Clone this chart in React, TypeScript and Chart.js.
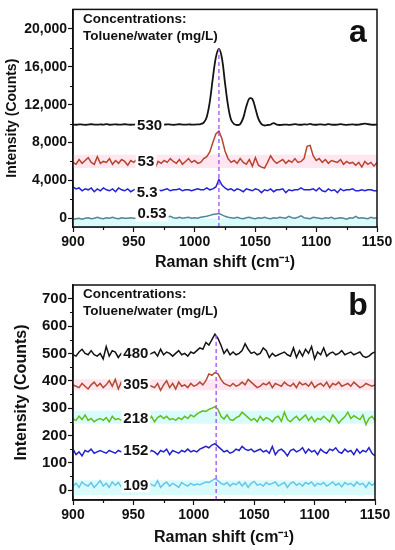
import React, { useEffect, useRef } from 'react';
import { Chart, registerables } from 'chart.js';

Chart.register(...registerables);

const FONT = "'Liberation Sans', Arial, Helvetica, sans-serif";

// Raman shift axis (cm-1)
const RAMAN_SHIFT = [
  900, 902.5, 905, 907.5, 910, 912.5, 915, 917.5, 920, 922.5,
  925, 927.5, 930, 932.5, 935, 937.5, 940, 942.5, 945, 947.5,
  950, 952.5, 955, 957.5, 960, 962.5, 965, 967.5, 970, 972.5,
  975, 977.5, 980, 982.5, 985, 987.5, 990, 992.5, 995, 997.5,
  1000, 1002.5, 1005, 1007.5, 1010, 1012.5, 1015, 1017.5, 1020, 1022.5,
  1025, 1027.5, 1030, 1032.5, 1035, 1037.5, 1040, 1042.5, 1045, 1047.5,
  1050, 1052.5, 1055, 1057.5, 1060, 1062.5, 1065, 1067.5, 1070, 1072.5,
  1075, 1077.5, 1080, 1082.5, 1085, 1087.5, 1090, 1092.5, 1095, 1097.5,
  1100, 1102.5, 1105, 1107.5, 1110, 1112.5, 1115, 1117.5, 1120, 1122.5,
  1125, 1127.5, 1130, 1132.5, 1135, 1137.5, 1140, 1142.5, 1145, 1147.5,
  1150,
];

const X_TICKS = [900, 950, 1000, 1050, 1100, 1150];
const X_MINOR = [925, 975, 1025, 1075, 1125];

// ---------- Panel a ----------
const A_Y_TICKS = [0, 4000, 8000, 12000, 16000, 20000];
const A_Y_MINOR = [2000, 6000, 10000, 14000, 18000];

const A_530 = [
  9900, 9880, 9920, 9900, 9870, 9900, 9930, 9900, 9890, 9910,
  9900, 9950, 9880, 9900, 9920, 9890, 9900, 9930, 9900, 9880,
  9900, 9910, 9900, 9890, 9900, 9920, 9900, 9880, 9910, 9900,
  9890, 9920, 9900, 9870, 9900, 9930, 9900, 9890, 9910, 9900,
  9900, 9920, 9950, 10100,
  10700, 12300, 14800, 17000, 17900, 16900, 14300, 11900, 10400, 9950,
  9850, 9950, 10600, 11800, 12650, 12600, 11600, 10500, 9950, 9800,
  9850, 9900, 10050, 9900,
  9850, 9880, 9900, 9870, 9900, 9950, 9900, 9880,
  9920, 9900, 9960, 9900, 9880, 9920, 9900, 9870, 9950, 9900,
  9880, 9900, 9950, 9900, 9870, 9900, 9910, 9880, 9900, 9950,
  10000, 9950, 9900, 9880, 9900,
];

const A_53 = [
  5900, 5700, 6200, 5800, 6100, 6400, 5900, 5700, 6500, 5800,
  6000, 5900, 6300, 5700, 6100, 5800, 6200, 6000, 5600, 6100,
  5900, 6200, 5800, 6000, 6300, 5900, 5700, 5300, 6000, 5800,
  6100, 5900, 6300, 6000, 5800, 6200, 5700, 6000, 6300, 5900,
  6100, 5800, 5900, 6300,
  6500, 7000, 8000, 8900, 9200, 8400, 7100, 6300, 5900,
  6100, 5800, 6300, 5900, 5700, 6200, 5500, 6400, 5600, 5400,
  5300, 5900, 6600, 6100, 5800, 6000, 6200, 5800, 6100, 5900,
  6300, 5900, 6000, 6300, 7600, 7700, 6600, 6100, 6300, 5900,
  6200, 5800, 6100, 6000, 5900, 6200, 5700, 6000, 5800, 5900,
  5600, 5900, 5400, 6000, 5700, 5900, 5500, 5900,
];

const A_5_3 = [
  3300, 3100, 3200, 2900, 3100, 3000, 3200, 2800, 3100, 2900,
  3200, 3000, 2900, 3100, 2800, 3200, 3000, 2900, 3100, 2800,
  3000, 3100, 2900, 3000, 2900, 2900, 3000, 2900, 3000, 2900,
  3000, 3100, 2900, 3000, 3000, 3100, 2900, 3000, 3000, 2900,
  3000, 3100, 3000, 3000,
  3200, 3000, 3100, 3300, 4100, 3500, 3200, 3000, 3100,
  2900, 3100, 3000, 2800, 3100, 3000, 2900, 3100, 3000, 2700,
  3000, 2900, 3100, 2800, 3000, 3000, 3100, 2700, 3000, 2900,
  3000, 3000, 3200, 3000, 3000, 3000, 3100, 2900, 3200, 2900,
  2800, 3100, 2900, 3000, 2700, 3100, 2900, 3000, 3000, 3100,
  2900, 2900, 3000, 2900, 3000, 3000, 2900, 2900,
];

const A_0_53 = [
  -100, -50, 0, -100, 0, 50, -50, 0, 100, 0,
  -50, 50, 0, 100, 0, -50, 50, 0, 0, 50,
  0, 0, 50, 0, 0, 50, 0, 0, 0, 50,
  0, 100, 200, 50, 0, 100, 0, 50, 100, 0,
  50, 0, 100, 150,
  200, 300, 400, 450, 500, 350, 200, 100, 50,
  0, 100, 0, -50, 50, 100, 0, -50, 50, 0,
  100, 0, -50, 50, 0, 100, 50, 0, 200, 50,
  0, 100, 250, 50, 0, -50, 100, 50, 0, -50,
  50, 0, 100, -50, 0, 50, 0, -100, 50, 0,
  200, 0, 50, 0, -50, 100, 0, 50,
];

const A_LABELS = ['530', '53', '5.3', '0.53'];

// ---------- Panel b ----------
const B_Y_TICKS = [0, 100, 200, 300, 400, 500, 600, 700];
const B_Y_MINOR = [50, 150, 250, 350, 450, 550, 650];

const B_480 = [
  495, 490, 505, 515, 500, 495, 510, 495, 490, 500,
  480, 525, 490, 510, 505, 485, 500, 490, 510, 500,
  505, 495, 490, 500, 510, 495, 500, 505, 490, 515,
  495, 505, 500, 490, 500, 510, 495, 500, 490, 505,
  500, 510, 520, 515,
  540, 530, 550, 570, 555, 530, 500, 515, 495,
  505, 495, 500, 510, 535, 515, 500, 505, 495, 500,
  520, 510, 485, 500, 490, 495, 500, 505, 495, 490,
  520, 485, 510, 490, 515, 500, 525, 480, 505, 495,
  520, 490, 500, 505, 495, 500, 510, 495, 500, 505,
  495, 500, 505, 490, 485, 490, 500, 505,
];

const B_305 = [
  385, 380, 375, 390, 380, 370, 385, 395, 380, 390,
  375, 385, 400, 380, 405, 370, 395, 365, 385, 395,
  380, 390, 385, 375, 395, 385, 380, 375, 390, 365,
  385, 400, 375, 390, 370, 395, 380, 385, 375, 390,
  380, 385, 395, 385,
  400, 425, 420, 430, 425, 405, 390, 385, 380,
  390, 380, 385, 395, 385, 405, 395, 385, 375, 380,
  390, 385, 395, 375, 390, 385, 380, 395, 385, 380,
  390, 375, 395, 385, 390, 380, 395, 375, 385, 390,
  380, 395, 375, 390, 385, 395, 380, 385, 390, 380,
  395, 385, 375, 380, 390, 385, 380, 385,
];

const B_218 = [
  260, 255, 270, 258, 275, 255, 262, 250, 258, 262,
  255, 265, 250, 270, 258, 262, 255, 265, 258, 262,
  262, 258, 260, 255, 262, 255, 270, 250, 265, 272,
  262, 270, 258, 262, 255, 265, 258, 270, 262, 275,
  268, 278, 285, 290,
  288, 295, 300, 305, 295, 270, 260, 275, 258,
  255, 265, 270, 285, 275, 265, 255, 262, 250, 270,
  255, 265, 260, 250, 265, 270, 252, 285, 258, 250,
  262, 270, 255, 265, 275, 255, 268, 250, 262, 258,
  270, 260, 250, 275, 262, 245, 258, 268, 285, 262,
  272, 265, 258, 275, 240, 262, 270, 255,
];

const B_152 = [
  150, 130, 140, 125, 145, 140, 150, 135, 140, 145,
  140, 135, 145, 140, 135, 145, 140, 150, 130, 155,
  140, 145, 130, 150, 140, 135, 145, 140, 130, 145,
  140, 150, 130, 145, 140, 135, 145, 140, 150, 140,
  145, 140, 150, 155,
  160, 155, 165, 170, 160, 150, 140, 145, 135,
  140, 150, 145, 160, 150, 145, 150, 140, 145, 150,
  140, 145, 135, 160, 130, 145, 150, 140, 125, 145,
  150, 140, 145, 155, 135, 150, 140, 145, 130, 150,
  140, 135, 150, 145, 155, 140, 135, 150, 140, 145,
  130, 150, 135, 145, 140, 155, 135, 125,
];

const B_109 = [
  15, 25, 10, 30, 20, 15, 28, 10, 22, 35,
  15, 25, 10, 30, 18, 28, 12, 25, 35, 10,
  20, 28, 15, 25, 10, 30, 20, 15, 35, 10,
  22, 30, 15, 25, 18, 10, 28, 20, 15, 25,
  18, 22, 20, 25,
  30, 28, 35, 42, 35, 25, 20, 28, 15,
  25, 20, 30, 15, 28, 10, 25, 32, 18, 22,
  15, 28, 20, 25, 30, 15, 22, 28, 10, 25,
  30, 18, 25, 15, 28, 22, 30, 15, 25, 20,
  28, 15, 22, 30, 18, 25, 12, 28, 20, 25,
  15, 30, 20, 25, 10, 28, 18, 25,
];

const B_LABELS = ['480', '305', '218', '152', '109'];

type Series = { values: number[]; color: string; label: string; lx: number; ly: number; width: number };
type Band = { lo: number; hi: number; color: string };
type Panel = {
  letter: string;
  letterBaseline: number;
  yMin: number;
  yMax: number;
  yTicks: number[];
  yMinor: number[];
  yTickSize: number;
  yTitleSize: number;
  yTitlePad: number;
  padRight: number;
  xHeight: number;
  peakX: number;
  peakTop: number;
  series: Series[];
  bands: Band[];
};

const PINK = 'rgba(255, 222, 236, 0.75)';
const CYAN = 'rgba(212, 250, 250, 0.85)';

const PANEL_A: Panel = {
  letter: 'a',
  letterBaseline: 42,
  yMin: -930,
  yMax: 22070,
  yTicks: A_Y_TICKS,
  yMinor: A_Y_MINOR,
  yTickSize: 14,
  yTitleSize: 14,
  yTitlePad: 4,
  padRight: 18,
  xHeight: 48,
  peakX: 1020,
  peakTop: 17900,
  series: [
    { values: A_530, color: '#141414', label: A_LABELS[0], lx: 963, ly: 9875, width: 1.8 },
    { values: A_53, color: '#b5452b', label: A_LABELS[1], lx: 960, ly: 6010, width: 1.5 },
    { values: A_5_3, color: '#2222d6', label: A_LABELS[2], lx: 961, ly: 2830, width: 1.5 },
    { values: A_0_53, color: '#4f8796', label: A_LABELS[3], lx: 965, ly: 520, width: 1.5 },
  ],
  bands: [
    { lo: 5300, hi: 6700, color: PINK },
    { lo: -930, hi: -20, color: CYAN },
  ],
};

const PANEL_B: Panel = {
  letter: 'b',
  letterBaseline: 40,
  yMin: -36,
  yMax: 750,
  yTicks: B_Y_TICKS,
  yMinor: B_Y_MINOR,
  yTickSize: 15,
  yTitleSize: 16,
  yTitlePad: 12,
  padRight: 20,
  xHeight: 50,
  peakX: 1018.5,
  peakTop: 570,
  series: [
    { values: B_480, color: '#141414', label: B_LABELS[0], lx: 952, ly: 503, width: 1.5 },
    { values: B_305, color: '#b24a2c', label: B_LABELS[1], lx: 952, ly: 390, width: 1.5 },
    { values: B_218, color: '#62bf1c', label: B_LABELS[2], lx: 952, ly: 264, width: 1.5 },
    { values: B_152, color: '#2323cc', label: B_LABELS[3], lx: 952, ly: 146, width: 1.5 },
    { values: B_109, color: '#66c6ea', label: B_LABELS[4], lx: 952, ly: 21, width: 1.5 },
  ],
  bands: [
    { lo: 365, hi: 405, color: PINK },
    { lo: 243, hi: 290, color: CYAN },
    { lo: -18, hi: 36, color: CYAN },
  ],
};

const annotPlugin = {
  id: 'annot',
  afterDatasetsDraw(chart: any, _args: any, opts: any) {
    const { ctx } = chart;
    const x = chart.scales.x;
    const y = chart.scales.y;
    const p: Panel = opts.panel;
    ctx.save();
    ctx.font = `bold 15px ${FONT}`;
    ctx.textAlign = 'center';
    ctx.textBaseline = 'middle';
    p.series.forEach((s) => {
      const px = x.getPixelForValue(s.lx);
      const py = y.getPixelForValue(s.ly);
      const w = ctx.measureText(s.label).width + 4;
      ctx.fillStyle = '#ffffff';
      ctx.fillRect(px - w / 2, py - 8, w, 16);
      ctx.fillStyle = '#111';
      ctx.fillText(s.label, px, py + 1);
    });
    ctx.restore();
  },
  afterDraw(chart: any, _args: any, opts: any) {
    const { ctx, chartArea } = chart;
    const x = chart.scales.x;
    const y = chart.scales.y;
    const p: Panel = opts.panel;
    ctx.save();
    // frame
    ctx.strokeStyle = '#111';
    ctx.lineWidth = 1.5;
    ctx.strokeRect(chartArea.left, chartArea.top, chartArea.right - chartArea.left, chartArea.bottom - chartArea.top);
    // minor ticks
    ctx.lineWidth = 1.2;
    ctx.beginPath();
    p.yMinor.forEach((v) => {
      const py = Math.round(y.getPixelForValue(v)) + 0.5;
      ctx.moveTo(chartArea.left - 3, py);
      ctx.lineTo(chartArea.left, py);
    });
    X_MINOR.forEach((v) => {
      const px = Math.round(x.getPixelForValue(v)) + 0.5;
      ctx.moveTo(px, chartArea.bottom);
      ctx.lineTo(px, chartArea.bottom + 3);
    });
    ctx.stroke();
    // header text
    ctx.fillStyle = '#111';
    ctx.textAlign = 'left';
    ctx.textBaseline = 'middle';
    ctx.font = `bold 13.5px ${FONT}`;
    ctx.fillText('Concentrations:', chartArea.left + 10, 19.5);
    ctx.fillText('Toluene/water (mg/L)', chartArea.left + 10, 36.5);
    ctx.font = `bold 32px ${FONT}`;
    ctx.textAlign = 'center';
    ctx.textBaseline = 'alphabetic';
    ctx.fillText(p.letter, 358, p.letterBaseline);
    ctx.restore();
  },
};

function buildChart(canvas: HTMLCanvasElement, p: Panel) {
  const datasets: any[] = [];
  datasets.push({
    data: [
      { x: p.peakX, y: p.yMin },
      { x: p.peakX, y: p.peakTop },
    ],
    borderColor: '#9b4ff0',
    borderDash: [4, 3],
    borderWidth: 1.3,
    pointRadius: 0,
    order: 0,
  });
  p.series.forEach((s, i) => {
    datasets.push({
      data: RAMAN_SHIFT.map((xv, j) => ({ x: xv, y: s.values[j] })),
      borderColor: s.color,
      borderWidth: s.width,
      pointRadius: 0,
      tension: i === 0 && p.letter === 'a' ? 0.35 : 0,
      order: 1,
    });
  });
  p.bands.forEach((b) => {
    datasets.push({
      data: [
        { x: 900, y: b.hi },
        { x: 1150, y: b.hi },
      ],
      borderWidth: 0,
      borderColor: 'rgba(0,0,0,0)',
      backgroundColor: b.color,
      pointRadius: 0,
      fill: { value: b.lo },
      order: 5,
    });
  });

  return new Chart(canvas, {
    type: 'line',
    data: { datasets },
    plugins: [annotPlugin as any],
    options: {
      responsive: false,
      animation: false,
      devicePixelRatio: 1,
      layout: { padding: { left: 0, right: p.padRight, top: 5, bottom: 0 } },
      plugins: {
        legend: { display: false },
        tooltip: { enabled: false },
        annot: { panel: p },
      } as any,
      scales: {
        x: {
          type: 'linear',
          min: 900,
          max: 1150,
          afterBuildTicks: (s: any) => {
            s.ticks = X_TICKS.map((v) => ({ value: v }));
          },
          afterFit: (s: any) => {
            s.height = p.xHeight;
          },
          ticks: {
            color: '#111',
            padding: 2,
            maxRotation: 0,
            font: { family: FONT, size: 14, weight: 'bold' },
            callback: (v: any) => String(v),
          },
          grid: { drawOnChartArea: false, drawTicks: true, tickLength: 5, color: '#111', tickWidth: 1.2 },
          border: { display: true, color: '#111', width: 1.5 },
          title: {
            display: true,
            text: 'Raman shift (cm\u207B\u00B9)',
            color: '#111',
            font: { family: FONT, size: 16, weight: 'bold' },
            padding: { top: 0, bottom: 3 },
          },
        },
        y: {
          type: 'linear',
          min: p.yMin,
          max: p.yMax,
          afterBuildTicks: (s: any) => {
            s.ticks = p.yTicks.map((v) => ({ value: v }));
          },
          afterFit: (s: any) => {
            s.width = 73;
          },
          ticks: {
            color: '#111',
            padding: 1,
            font: { family: FONT, size: p.yTickSize, weight: 'bold' },
            callback: (v: any) => Number(v).toLocaleString('en-US'),
          },
          grid: { drawOnChartArea: false, drawTicks: true, tickLength: 5, color: '#111', tickWidth: 1.2 },
          border: { display: true, color: '#111', width: 1.5 },
          title: {
            display: true,
            text: 'Intensity (Counts)',
            color: '#111',
            font: { family: FONT, size: p.yTitleSize, weight: 'bold' },
            padding: { top: p.yTitlePad, bottom: 0 },
          },
        },
      },
    } as any,
  });
}

function PanelChart({ panel }: { panel: Panel }) {
  const ref = useRef<HTMLCanvasElement | null>(null);
  useEffect(() => {
    if (!ref.current) return;
    const chart = buildChart(ref.current, panel);
    return () => chart.destroy();
  }, [panel]);
  return <canvas ref={ref} width={395} height={275} style={{ display: 'block', width: 395, height: 275 }} />;
}

export default function App() {
  return (
    <div style={{ position: 'absolute', left: 0, top: 0, width: 395, height: 550, background: '#fff' }}>
      <PanelChart panel={PANEL_A} />
      <PanelChart panel={PANEL_B} />
    </div>
  );
}
